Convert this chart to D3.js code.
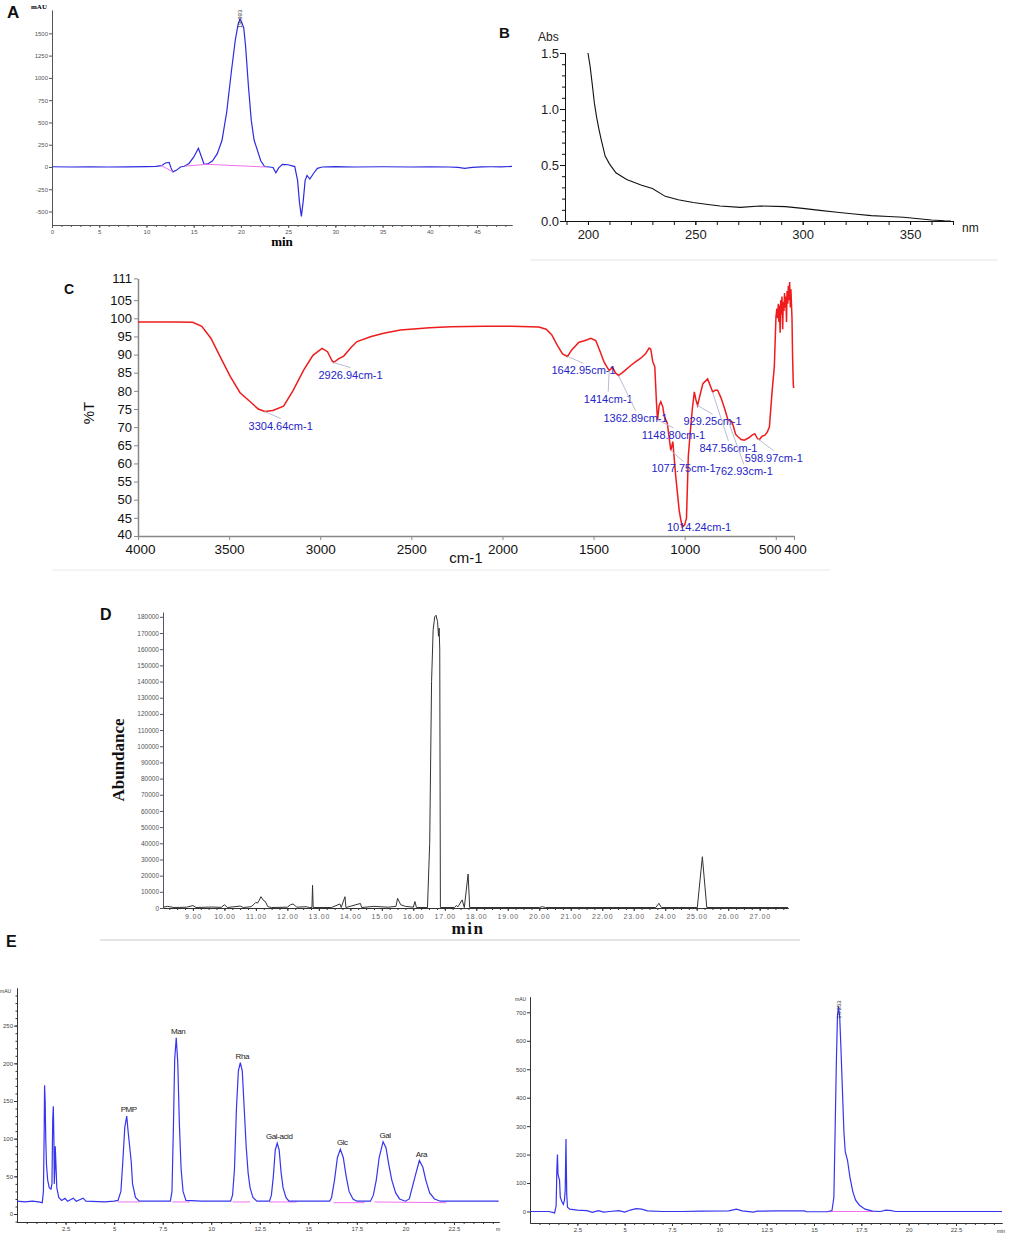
<!DOCTYPE html>
<html>
<head>
<meta charset="utf-8">
<script src="https://cdn.jsdelivr.net/npm/d3@7"></script>
<style>
  body { margin: 0; background: #fff; }
  svg { display: block; }
</style>
</head>
<body>
<svg id="fig" width="1021" height="1241"></svg>
<script>
// ---------- data ----------

// A: HPLC-GPC trace (min, mAU)
const gpcTrace = [[0,3],[2,0],[4,3],[6,0],[8,2],[10,4],[11,6],[11.6,15],[12.0,45],[12.4,52],[12.6,-10],[12.8,-55],[13.2,-35],[13.6,0],
  [14,8],[14.5,40],[15,110],[15.5,210],[15.8,120],[16.1,30],[16.5,35],[17,70],[17.5,150],[18,300],[18.5,620],[19,1080],
  [19.4,1420],[19.7,1600],[19.9,1660],[20.1,1620],[20.3,1560],[20.5,1350],[20.8,900],[21.1,520],[21.4,300],[21.8,170],
  [22.1,70],[22.5,5],[23,0],[23.4,-5],[23.7,-65],[24.0,-10],[24.4,30],[25,25],[25.7,5],[26.0,-150],[26.2,-400],
  [26.4,-555],[26.6,-380],[26.8,-150],[27.0,-95],[27.3,-135],[27.7,-70],[28.1,-15],[28.6,0],[30,4],[32,0],[35,3],
  [38,0],[40,2],[42,0],[43,-5],[43.7,-15],[44.5,-5],[45.5,2],[46.5,3],[47.5,2],[48.7,6]];
const gpcBaselines = [[[11.5,20],[12.8,-55]], [[14.1,10],[16.4,30],[22.6,0]]];
const gpcPeakLabel = { t: 19.9, v: 1660, text: "19.993" };
const gpcYTicks = [-500,-250,0,250,500,750,1000,1250,1500];
const gpcXTicks = [0,5,10,15,20,25,30,35,40,45];

// B: UV spectrum (nm, Abs)
const uvSpectrum = [[200,1.5],[201,1.38],[202,1.22],[203,1.05],[204,0.93],[205,0.83],[206,0.74],[207,0.66],[208,0.58],
  [210,0.51],[213,0.43],[218,0.37],[225,0.32],[230,0.29],[236,0.22],[242,0.19],[249,0.165],[255,0.15],[261.5,0.134],
  [271,0.122],[280,0.134],[292,0.128],[300,0.113],[308,0.095],[316,0.078],[324,0.063],[332,0.048],[340,0.04],
  [347,0.033],[354,0.02],[360,0.009],[366,0.002],[369,0]];
const uvYTicks = [0, 0.5, 1.0, 1.5];
const uvXTicks = [200, 250, 300, 350];

// C: FT-IR spectrum (cm-1, %T)
const irSpectrum = [[4000,99],[3900,99],[3800,99],[3700,98.9],[3650,97.8],[3600,94.5],[3550,89.5],[3494,84],[3440,79.5],
  [3384,77],[3340,75],[3304,74.3],[3260,74.6],[3201,75.8],[3150,80],[3091,85.7],[3040,89.8],[2990,91.7],[2960,90.8],
  [2935,88.3],[2926,87.8],[2900,88.8],[2871,89.6],[2830,92],[2798,93.6],[2720,95],[2652,95.9],[2560,96.8],[2400,97.4],
  [2285,97.7],[2100,97.8],[1950,97.8],[1800,97.6],[1760,97],[1730,95.5],[1698,92.5],[1670,90.2],[1643,89.5],[1620,91.3],
  [1580,93.4],[1550,93.8],[1515,94.5],[1488,93.9],[1465,91],[1442,87.9],[1425,86.5],[1414,85.6],[1396,86.5],[1380,85],
  [1363,84.2],[1330,85.5],[1296,87],[1270,88],[1241,89],[1215,90.2],[1195,91.8],[1186,91.5],[1175,88],[1164,86.7],
  [1155,77],[1149,72],[1140,76],[1131,77],[1120,75.6],[1112,73],[1095,71],[1085,67],[1076,63.6],[1065,66],[1050,57],
  [1030,47],[1014,42.5],[1000,43],[990,45],[980,62],[970,68.2],[958,75],[947,79.7],[938,77.5],[929,76],[915,79],
  [900,82],[874,83.3],[860,81.5],[846,79.7],[832,80.2],[819,80.2],[800,78],[780,75],[762,71.9],[740,71.5],[720,68],
  [706,67.3],[690,66.6],[673,66.4],[650,67],[630,67.8],[615,68.2],[600,66.8],[590,66.6],[575,67.5],[560,67.8],
  [548,68.5],[535,70],[520,80],[508,86.6],[499,100.4],[494,102.7],[490,100],[486,104],[483,99],[480,103.5],[476,96],
  [473,105],[469,101],[466,106],[462,97],[459,104.5],[455,102],[452,107],[448,103],[445,106],[441,99],[438,107.5],
  [434,104],[431,109],[427,105],[424,110],[420,103],[417,108],[414,104],[411,100],[408,90],[404,82],[402,80.8]];
const irPeaks = [
  { wn: 3304.64, t: 74.3, text: "3304.64cm-1" },
  { wn: 2926.94, t: 87.8, text: "2926.94cm-1" },
  { wn: 1642.95, t: 89.5, text: "1642.95cm-1" },
  { wn: 1414,    t: 85.6, text: "1414cm-1" },
  { wn: 1362.89, t: 84.2, text: "1362.89cm-1" },
  { wn: 1148.80, t: 72.0, text: "1148.80cm-1" },
  { wn: 1077.75, t: 63.6, text: "1077.75cm-1" },
  { wn: 1014.24, t: 42.5, text: "1014.24cm-1" },
  { wn: 929.25,  t: 76.0, text: "929.25cm-1" },
  { wn: 847.56,  t: 79.7, text: "847.56cm-1" },
  { wn: 762.93,  t: 71.9, text: "762.93cm-1" },
  { wn: 598.97,  t: 66.8, text: "598.97cm-1" }
];
const irYTicks = [40,45,50,55,60,65,70,75,80,85,90,95,100,105,111];
const irXTicks = [4000,3500,3000,2500,2000,1500,1000,500,400];

// D: GC-MS total ion chromatogram (min, abundance)
const gcTrace = [[8.05,500],[8.2,1000],[8.4,300],[8.8,500],[9.0,1500],[9.1,300],[9.6,600],[9.9,400],[10.0,2000],[10.1,300],
  [10.5,1200],[10.6,300],[10.85,800],[10.95,2500],[11.0,3500],[11.05,3000],[11.1,4500],[11.16,7000],[11.25,4500],
  [11.3,4000],[11.38,800],[11.5,300],[12.0,500],[12.1,2000],[12.18,2500],[12.3,500],[12.6,800],[12.7,300],[12.78,300],
  [12.8,14000],[12.82,300],[13.4,300],[13.67,2500],[13.71,300],[13.83,7000],[13.86,300],[14.32,2800],[14.36,300],
  [14.75,1000],[15.2,500],[15.45,1000],[15.5,6000],[15.6,2000],[15.75,1000],[16.0,500],[16.05,4000],[16.1,300],
  [16.45,300],[16.52,40000],[16.58,140000],[16.63,172000],[16.68,180000],[16.72,181000],[16.77,177000],[16.8,168000],
  [16.82,173000],[16.84,160000],[16.86,300],[17.3,300],[17.37,1500],[17.42,800],[17.55,5000],[17.62,300],
  [17.74,21000],[17.79,300],[20.0,300],[20.1,800],[20.2,300],[23.7,300],[23.8,2900],[23.88,300],[25.02,300],
  [25.18,31700],[25.32,300],[27.9,300]];
const gcYTicks = d3.range(0, 180001, 10000);
const gcXTicks = d3.range(9, 28, 1);

// E (left): PMP-HPLC of monosaccharide standards (min, mAU)
const stdTrace = [[0,17],[0.4,16],[0.8,17],[1.1,16],[1.3,15],[1.36,30],[1.4,110],[1.42,171],[1.45,150],[1.48,100],
  [1.52,65],[1.58,45],[1.66,35],[1.75,33],[1.8,40],[1.84,125],[1.87,143],[1.9,100],[1.92,40],[1.95,60],[1.97,90],
  [2.0,70],[2.05,35],[2.15,22],[2.3,18],[2.47,21],[2.6,17],[2.9,21],[3.05,17],[3.4,21],[3.55,17],[4.5,16],[5.0,17],
  [5.2,18],[5.35,30],[5.45,70],[5.55,115],[5.65,130],[5.72,110],[5.8,90],[5.88,70],[5.95,40],[6.1,22],[6.3,17],
  [7.0,17],[7.9,17],[7.98,30],[8.05,110],[8.12,205],[8.2,234],[8.28,200],[8.36,120],[8.45,60],[8.55,30],[8.7,18],
  [9.5,17],[11.0,17],[11.1,25],[11.2,60],[11.3,140],[11.4,190],[11.5,201],[11.6,190],[11.7,140],[11.8,90],[11.9,55],
  [12.0,35],[12.15,22],[12.35,17],[13.0,17],[13.1,25],[13.2,50],[13.3,85],[13.4,94],[13.5,85],[13.6,55],[13.7,35],
  [13.85,22],[14.0,17],[15.5,17],[16.1,17],[16.2,22],[16.35,45],[16.5,75],[16.65,86],[16.8,75],[16.95,50],[17.1,30],
  [17.3,20],[17.5,17],[18.2,17],[18.35,25],[18.5,45],[18.65,75],[18.85,96],[19.0,88],[19.15,65],[19.3,45],[19.5,28],
  [19.7,20],[20.0,17],[20.2,20],[20.35,35],[20.5,50],[20.72,71],[20.9,62],[21.05,45],[21.25,28],[21.5,20],[21.8,17],
  [23,17],[24.8,17]];
const stdBaselines = [[[5.2,16],[6.3,16]], [[8.0,16],[8.9,16]], [[11.1,16],[12.0,16]], [[13.0,16],[14.4,16]],
  [[16.3,15],[17.9,15]], [[18.4,16],[22.1,15]]];
const stdPeaks = [
  { t: 5.65,  v: 130, text: "PMP" },
  { t: 8.2,   v: 234, text: "Man" },
  { t: 11.5,  v: 201, text: "Rha" },
  { t: 13.4,  v: 94,  text: "Gal-acid" },
  { t: 16.65, v: 86,  text: "Glc" },
  { t: 18.85, v: 96,  text: "Gal" },
  { t: 20.72, v: 71,  text: "Ara" }
];
const stdYTicks = [0, 50, 100, 150, 200, 250];
const stdXTicks = [2.5, 5, 7.5, 10, 12.5, 15, 17.5, 20, 22.5];

// E (right): PMP-HPLC of the sample hydrolysate (min, mAU)
const smpTrace = [[0,0],[1.0,0],[1.3,-5],[1.38,20],[1.42,150],[1.45,200],[1.48,130],[1.52,120],[1.56,110],[1.6,50],
  [1.68,35],[1.76,25],[1.82,40],[1.86,75],[1.9,255],[1.94,60],[1.98,15],[2.1,8],[2.5,5],[3.0,3],[3.3,-3],[3.6,3],
  [3.9,-2],[4.2,0],[4.7,3],[5.0,-2],[5.3,5],[5.6,10],[5.9,8],[6.2,2],[7,0],[8,0],[9,1],[10.5,2],[10.9,8],[11.2,2],
  [11.8,-2],[12.0,1],[13,2],[14.5,2],[14.6,-1],[15.7,-1],[15.95,3],[16.05,50],[16.12,300],[16.18,520],[16.24,690],
  [16.3,720],[16.36,680],[16.42,580],[16.5,430],[16.58,280],[16.65,210],[16.77,180],[16.9,120],[17.05,70],[17.2,40],
  [17.4,22],[17.7,8],[18.1,1],[18.5,0],[18.8,5],[19.1,3],[19.3,0],[21,0],[24.93,0]];
const smpBaselines = [[[15.8,0],[18.1,0]]];
const smpPeakLabel = { t: 16.3, v: 720, text: "16.253" };
const smpYTicks = [0, 100, 200, 300, 400, 500, 600, 700];
const smpXTicks = [2.5, 5, 7.5, 10, 12.5, 15, 17.5, 20, 22.5];

// ---------- drawing ----------
const svg = d3.select("#fig");
const SANS = "Liberation Sans, Arial, sans-serif";
const SERIF = "Liberation Serif, Times New Roman, serif";
const plain = d => String(d);

function trace(x, y) {
  return d3.line().x(d => x(d[0])).y(d => y(d[1]));
}

function styleAxis(g, o) {
  g.attr("font-family", o.font || SANS).attr("font-size", o.size);
  g.select(".domain").attr("stroke", o.color).attr("stroke-width", o.width || 1);
  g.selectAll(".tick line").attr("stroke", o.color);
  g.selectAll(".tick text").attr("fill", o.text || "#222");
  return g;
}

function letter(txt, x, y, size) {
  svg.append("text").attr("x", x).attr("y", y).text(txt)
    .attr("font-family", SANS).attr("font-weight", "bold").attr("font-size", size).attr("fill", "#111");
}

// ----- A -----
{
  const x = d3.scaleLinear().domain([0, 48.7]).range([52, 512]);
  const y = d3.scaleLinear().domain([-651, 1762]).range([225, 10]);
  const g = svg.append("g");
  styleAxis(g.append("g").attr("transform", "translate(0,225)")
    .call(d3.axisBottom(x).tickValues(d3.range(0, 49, 1)).tickSize(2).tickFormat("").tickSizeOuter(0)),
    { size: 6, color: "#555" });
  styleAxis(g.append("g").attr("transform", "translate(0,225)")
    .call(d3.axisBottom(x).tickValues(gpcXTicks).tickSize(3).tickPadding(2).tickFormat(plain).tickSizeOuter(0)),
    { size: 6, color: "#555", text: "#555" });
  styleAxis(g.append("g").attr("transform", "translate(52,0)")
    .call(d3.axisLeft(y).tickValues(gpcYTicks).tickSize(3).tickPadding(1).tickFormat(plain).tickSizeOuter(0)),
    { size: 6, color: "#555", text: "#555" });
  g.append("path").datum(gpcTrace).attr("d", trace(x, y))
    .attr("fill", "none").attr("stroke", "#2b2be0").attr("stroke-width", 1.2);
  gpcBaselines.forEach(b => g.append("path").datum(b).attr("d", trace(x, y))
    .attr("fill", "none").attr("stroke", "#f070f0").attr("stroke-width", 1));
  g.append("text").text(gpcPeakLabel.text)
    .attr("transform", `translate(${x(gpcPeakLabel.t) + 2},${y(gpcPeakLabel.v) + 9}) rotate(-90)`)
    .attr("font-family", SANS).attr("font-size", 6).attr("fill", "#333");
  g.append("text").attr("x", 31).attr("y", 9).text("mAU")
    .attr("font-family", SERIF).attr("font-weight", "bold").attr("font-size", 7);
  g.append("text").attr("x", 282).attr("y", 246).attr("text-anchor", "middle").text("min")
    .attr("font-family", SERIF).attr("font-weight", "bold").attr("font-size", 13);
  letter("A", 7, 18, 17);
}

// ----- B -----
{
  const x = d3.scaleLinear().domain([189.3, 370]).range([565, 953]);
  const y = d3.scaleLinear().domain([0, 1.5]).range([221, 53]);
  const g = svg.append("g");
  styleAxis(g.append("g").attr("transform", "translate(0,221)")
    .call(d3.axisBottom(x).tickValues(d3.range(190, 371, 10)).tickSize(4).tickFormat("").tickSizeOuter(0)),
    { size: 13, color: "#111" });
  styleAxis(g.append("g").attr("transform", "translate(0,221)")
    .call(d3.axisBottom(x).tickValues(uvXTicks).tickSize(4).tickPadding(5).tickFormat(plain).tickSizeOuter(0)),
    { size: 13, color: "#111", text: "#222" });
  styleAxis(g.append("g").attr("transform", "translate(565,0)")
    .call(d3.axisLeft(y).tickValues(d3.range(0, 1.51, 0.1)).tickSize(3).tickFormat("").tickSizeOuter(0)),
    { size: 13, color: "#111" });
  styleAxis(g.append("g").attr("transform", "translate(565,0)")
    .call(d3.axisLeft(y).tickValues(uvYTicks).tickSize(5).tickPadding(1).tickFormat(d3.format(".1f")).tickSizeOuter(0)),
    { size: 13, color: "#111", text: "#222" });
  g.append("path").datum(uvSpectrum).attr("d", trace(x, y))
    .attr("fill", "none").attr("stroke", "#111").attr("stroke-width", 1.1);
  g.append("text").attr("x", 538).attr("y", 41).text("Abs").attr("font-family", SANS).attr("font-size", 12).attr("fill", "#222");
  g.append("text").attr("x", 962).attr("y", 232).text("nm").attr("font-family", SANS).attr("font-size", 12).attr("fill", "#222");
  g.append("line").attr("x1", 530).attr("x2", 998).attr("y1", 260).attr("y2", 260).attr("stroke", "#e6e6e6");
  letter("B", 499, 38, 15);
}

// ----- C -----
{
  const x = d3.scaleLinear().domain([4000, 400]).range([138, 794]);
  const y = d3.scaleLinear().domain([40, 111]).range([536, 278.4]);
  const g = svg.append("g");
  const xAxis = styleAxis(g.append("g").attr("transform", "translate(0,536)")
    .call(d3.axisBottom(x).tickValues(irXTicks).tickSize(4).tickPadding(4).tickFormat(plain).tickSizeOuter(0)),
    { size: 13.5, color: "#888", text: "#111", width: 1.5 });
  xAxis.selectAll(".tick text").filter(d => d === 500).attr("dx", -6);
  xAxis.selectAll(".tick text").filter(d => d === 400).attr("dx", 1);
  xAxis.selectAll(".tick text").filter(d => d === 4000).attr("dx", 2);
  const yAxis = styleAxis(g.append("g").attr("transform", "translate(138,0)")
    .call(d3.axisLeft(y).tickValues(irYTicks).tickSize(4).tickPadding(2).tickFormat(plain).tickSizeOuter(0)),
    { size: 13, color: "#888", text: "#111", width: 1.5 });
  yAxis.selectAll(".tick text").filter(d => d === 40).attr("dy", "0.2em");
  g.append("path").datum(irSpectrum).attr("d", trace(x, y))
    .attr("fill", "none").attr("stroke", "#ee1c1c").attr("stroke-width", 1.5);

  // label offsets from each marked minimum (layout only)
  const irLabelOffset = [[16,14],[17,12],[16,14],[-1,28],[17,42],[16,15],[13,18],[17,0],[15,16],[16,56],[16,51],[16,19]];
  irPeaks.forEach((p, i) => {
    const ax = x(p.wn), ay = y(p.t);
    const cx = ax + irLabelOffset[i][0], cy = ay + irLabelOffset[i][1];
    if (i !== 7) {
      g.append("line").attr("x1", ax).attr("y1", ay).attr("x2", cx).attr("y2", cy - 7)
        .attr("stroke", "#b8bcd4").attr("stroke-width", 1);
    }
    g.append("text").attr("x", cx).attr("y", cy + 4).attr("text-anchor", "middle").text(p.text)
      .attr("font-family", SANS).attr("font-size", 11).attr("fill", "#2424c8");
  });
  g.append("text").attr("x", 466).attr("y", 563).attr("text-anchor", "middle").text("cm-1")
    .attr("font-family", SANS).attr("font-size", 15).attr("fill", "#111");
  g.append("text").attr("transform", "translate(94,413) rotate(-90)").attr("text-anchor", "middle").text("%T")
    .attr("font-family", SANS).attr("font-size", 15).attr("fill", "#111");
  g.append("line").attr("x1", 52).attr("x2", 830).attr("y1", 570).attr("y2", 570).attr("stroke", "#eaeaea");
  letter("C", 64, 294, 14);
}

// ----- D -----
{
  const x = d3.scaleLinear().domain([8.05, 27.9]).range([163, 788]);
  const y = d3.scaleLinear().domain([0, 183000]).range([908, 612]);
  const g = svg.append("g");
  styleAxis(g.append("g").attr("transform", "translate(0,908)")
    .call(d3.axisBottom(x).tickValues(d3.range(8.25, 27.9, 0.25)).tickSize(2).tickFormat("").tickSizeOuter(0)),
    { size: 7, color: "#333" });
  const xAxis = styleAxis(g.append("g").attr("transform", "translate(0,908)")
    .call(d3.axisBottom(x).tickValues(gcXTicks).tickSize(3).tickPadding(3).tickFormat(d3.format(".2f")).tickSizeOuter(0)),
    { size: 7, color: "#333", text: "#666" });
  xAxis.selectAll(".tick text").attr("letter-spacing", 0.8);
  styleAxis(g.append("g").attr("transform", "translate(163,0)")
    .call(d3.axisLeft(y).tickValues(gcYTicks).tickSize(3).tickPadding(1).tickFormat(plain).tickSizeOuter(0)),
    { size: 6.5, color: "#556", text: "#555" });
  g.append("path").datum(gcTrace).attr("d", trace(x, y))
    .attr("fill", "none").attr("stroke", "#333").attr("stroke-width", 1);
  g.append("text").attr("transform", "translate(124,760) rotate(-90)").attr("text-anchor", "middle").text("Abundance")
    .attr("font-family", SERIF).attr("font-weight", "bold").attr("font-size", 17).attr("fill", "#111");
  g.append("text").attr("x", 468).attr("y", 934).attr("text-anchor", "middle").text("min")
    .attr("letter-spacing", 1.5)
    .attr("font-family", SERIF).attr("font-weight", "bold").attr("font-size", 17).attr("fill", "#111");
  g.append("line").attr("x1", 100).attr("x2", 800).attr("y1", 940).attr("y2", 940).attr("stroke", "#e4e4e4").attr("stroke-width", 2);
  letter("D", 100, 620, 16);
}

// ----- E left -----
{
  const x = d3.scaleLinear().domain([0, 24.82]).range([17, 499]);
  const y = d3.scaleLinear().domain([-10.6, 300]).range([1222, 988]);
  const g = svg.append("g");
  styleAxis(g.append("g").attr("transform", "translate(0,1222)")
    .call(d3.axisBottom(x).tickValues(d3.range(0.5, 24.8, 0.5)).tickSize(2).tickFormat("").tickSizeOuter(0)),
    { size: 6, color: "#333" });
  styleAxis(g.append("g").attr("transform", "translate(0,1222)")
    .call(d3.axisBottom(x).tickValues(stdXTicks).tickSize(3).tickPadding(2).tickFormat(plain).tickSizeOuter(0)),
    { size: 6, color: "#333", text: "#444" });
  styleAxis(g.append("g").attr("transform", "translate(17,0)")
    .call(d3.axisLeft(y).tickValues(d3.range(-10, 300, 10)).tickSize(1.5).tickFormat("").tickSizeOuter(0)),
    { size: 6, color: "#333" });
  styleAxis(g.append("g").attr("transform", "translate(17,0)")
    .call(d3.axisLeft(y).tickValues(stdYTicks).tickSize(3).tickPadding(1).tickFormat(plain).tickSizeOuter(0)),
    { size: 6, color: "#333", text: "#444" });
  stdBaselines.forEach(b => g.append("path").datum(b).attr("d", trace(x, y))
    .attr("fill", "none").attr("stroke", "#f070f0").attr("stroke-width", 1));
  g.append("path").datum(stdTrace).attr("d", trace(x, y))
    .attr("fill", "none").attr("stroke", "#3535ee").attr("stroke-width", 1.2);
  stdPeaks.forEach(p => {
    g.append("text").attr("x", x(p.t) + 2).attr("y", y(p.v) - 4).attr("text-anchor", "middle").text(p.text)
      .attr("letter-spacing", -0.4)
      .attr("font-family", SANS).attr("font-size", 8).attr("fill", "#222");
  });
  g.append("text").attr("x", 0).attr("y", 993).text("mAU").attr("font-family", SANS).attr("font-size", 5).attr("fill", "#333");
  g.append("text").attr("x", 496).attr("y", 1231).text("m").attr("font-family", SANS).attr("font-size", 5).attr("fill", "#333");
  letter("E", 6, 947, 16);
}

// ----- E right -----
{
  const x = d3.scaleLinear().domain([0, 24.93]).range([530, 1002]);
  const y = d3.scaleLinear().domain([-40.5, 755]).range([1223, 996.7]);
  const g = svg.append("g");
  styleAxis(g.append("g").attr("transform", "translate(0,1223)")
    .call(d3.axisBottom(x).tickValues(d3.range(0.5, 24.9, 0.5)).tickSize(2).tickFormat("").tickSizeOuter(0)),
    { size: 6, color: "#333" });
  styleAxis(g.append("g").attr("transform", "translate(0,1223)")
    .call(d3.axisBottom(x).tickValues(smpXTicks).tickSize(3).tickPadding(2).tickFormat(plain).tickSizeOuter(0)),
    { size: 6, color: "#333", text: "#444" });
  styleAxis(g.append("g").attr("transform", "translate(530,0)")
    .call(d3.axisLeft(y).tickValues(smpYTicks).tickSize(3).tickPadding(1).tickFormat(plain).tickSizeOuter(0)),
    { size: 6, color: "#333", text: "#444" });
  smpBaselines.forEach(b => g.append("path").datum(b).attr("d", trace(x, y))
    .attr("fill", "none").attr("stroke", "#f070f0").attr("stroke-width", 1.2));
  g.append("path").datum(smpTrace).attr("d", trace(x, y))
    .attr("fill", "none").attr("stroke", "#3535ee").attr("stroke-width", 1.2);
  g.append("text").text(smpPeakLabel.text)
    .attr("transform", `translate(${x(smpPeakLabel.t) + 2},${y(smpPeakLabel.v) + 12}) rotate(-90)`)
    .attr("font-family", SANS).attr("font-size", 6).attr("fill", "#333");
  g.append("text").attr("x", 515).attr("y", 1001).text("mAU").attr("font-family", SANS).attr("font-size", 5).attr("fill", "#333");
  g.append("text").attr("x", 997).attr("y", 1233).text("min").attr("font-family", SANS).attr("font-size", 5).attr("fill", "#333");
}
</script>
</body>
</html>
